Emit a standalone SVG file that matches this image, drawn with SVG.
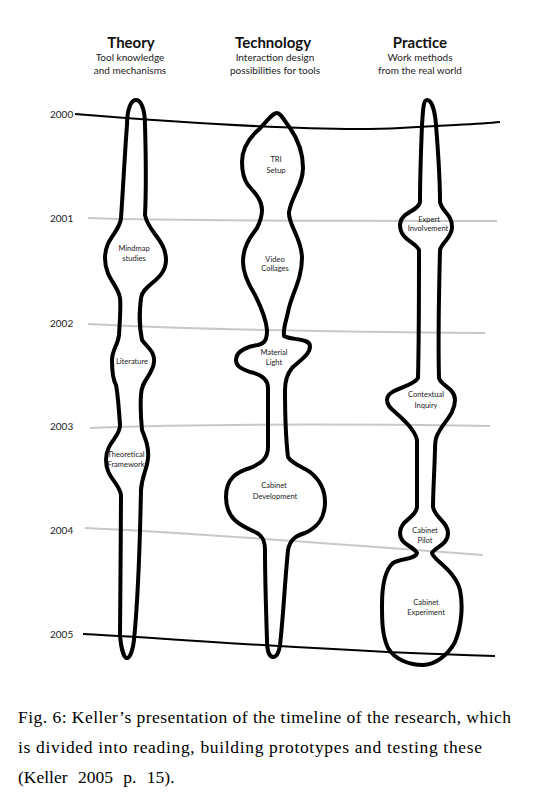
<svg xmlns="http://www.w3.org/2000/svg" width="552" height="798" viewBox="0 0 552 798">
<style>
.h{font-family:Lato,"Open Sans","Liberation Sans",sans-serif;font-weight:bold;font-size:15px;fill:#111;text-anchor:middle}
.s{font-family:Lato,"Open Sans","Liberation Sans",sans-serif;font-size:10px;fill:#222;text-anchor:middle}
.y{font-family:Lato,"Open Sans","Liberation Sans",sans-serif;font-size:10px;fill:#222}
.l{font-family:Lato,"Open Sans","Liberation Sans",sans-serif;font-size:7.5px;fill:#222;text-anchor:middle}
.blob{fill:none;stroke:#000;stroke-width:4;stroke-linejoin:round}
.gl{fill:none;stroke:#c8c8c8;stroke-width:2}
.bl{fill:none;stroke:#000;stroke-width:2}
.c{font-family:"Liberation Serif","Times New Roman",serif;font-size:17.5px;fill:#000}
</style>
<g id="headers">
<text class="h" x="131" y="48">Theory</text>
<text class="s" x="130" y="61">Tool knowledge</text>
<text class="s" x="130" y="74">and mechanisms</text>
<text class="h" x="273" y="48">Technology</text>
<text class="s" x="275" y="61">Interaction design</text>
<text class="s" x="275" y="74">possibilities for tools</text>
<text class="h" x="420" y="48">Practice</text>
<text class="s" x="420" y="61">Work methods</text>
<text class="s" x="420" y="74">from the real world</text>
</g>
<g id="years">
<text class="y" x="50" y="118">2000</text>
<text class="y" x="50" y="222">2001</text>
<text class="y" x="50" y="327">2002</text>
<text class="y" x="50" y="430">2003</text>
<text class="y" x="50" y="534">2004</text>
<text class="y" x="50" y="638">2005</text>
</g>
<g id="connectors">
<path class="bl" d="M75,114 C200,124 330,132 400,128 S480,124 500,122"/>
<path class="gl" d="M88,218 C200,222 350,220 497,221"/>
<path class="gl" d="M88,324 C200,330 350,332 485,333"/>
<path class="gl" d="M90,428 C200,424 350,424 490,426"/>
<path class="gl" d="M85,528 C180,532 300,541 483,555"/>
<path class="bl" d="M83,634 C200,640 330,652 495,656"/>
</g>
<g id="theory">
<path class="blob" d="M136,100 C142,100 145,112 145,125 C146,160 146,195 145,215 C148,232 166,240 166,260 C166,280 142,285 141,298 C139,315 139,325 142,340 C148,348 155,352 154,362 C153,375 141,380 141,395 C140,410 141,420 142,430 C146,440 149,448 148,458 C147,470 142,475 141,490 C140,540 138,600 134,640 C133,650 130,658 127,658 C124,658 121,648 120,635 C120,600 121,540 121,495 C119,482 106,478 106,460 C106,442 120,438 120,425 C119,410 118,395 116,385 C112,378 112,368 112,360 C112,350 118,345 119,335 C120,320 121,305 120,298 C118,285 105,278 105,258 C105,238 120,232 121,218 C123,190 125,150 127,125 C127,112 130,100 136,100 Z"/>
<text class="l" x="134" y="251">Mindmap</text>
<text class="l" x="134" y="261">studies</text>
<text class="l" x="132" y="364">Literature</text>
<text class="l" x="126" y="457">Theoretical</text>
<text class="l" x="126" y="467">Framework</text>
</g>
<g id="technology">
<path class="blob" d="M277,113 C281,113 285,122 290,128 C297,138 303,150 303,168 C303,185 292,195 289,212 C288,225 302,238 302,258 C302,280 291,295 288,312 C286,322 283,328 284,336 C290,340 310,338 310,346 C310,355 300,360 292,368 C287,374 285,380 285,390 C285,420 286,440 288,457 C292,464 303,467 310,472 C320,480 325,490 325,502 C325,518 318,527 305,533 C295,536 290,540 288,550 C285,580 283,620 280,645 C279,652 277,657 273,657 C269,657 267,650 267,640 C266,610 265,580 265,550 C265,540 262,535 255,532 C242,526 226,520 226,497 C226,478 237,472 250,468 C262,463 268,458 268,447 C268,420 268,400 268,388 C268,378 260,374 250,372 C240,368 236,366 236,360 C236,350 250,346 258,345 C266,343 267,338 267,330 C266,318 260,305 255,295 C247,282 243,272 243,262 C243,245 252,235 257,228 C261,220 262,216 262,210 C262,200 255,193 248,185 C243,178 242,170 242,162 C242,150 248,140 256,132 C265,124 272,113 277,113 Z"/>
<text class="l" x="276" y="162">TRI</text>
<text class="l" x="276" y="173">Setup</text>
<text class="l" x="275" y="262">Video</text>
<text class="l" x="275" y="271">Collages</text>
<text class="l" x="274" y="355">Material</text>
<text class="l" x="274" y="365">Light</text>
<text class="l" x="274" y="488">Cabinet</text>
<text class="l" x="275" y="499">Development</text>
</g>
<g id="practice">
<path class="blob" d="M427,100 C432,100 435,112 436,125 C438,150 440,180 440,202 C442,212 452,214 452,227 C452,238 442,242 440,250 C439,290 438,340 439,378 C441,386 455,388 455,400 C455,412 446,420 440,430 C436,436 435,440 435,450 C434,480 433,495 433,507 C435,518 448,522 448,533 C448,545 435,547 432,553 C433,560 455,570 460,590 C463,605 462,625 455,642 C448,655 435,665 423,665 C410,665 395,660 388,648 C382,635 382,620 382,605 C382,585 385,570 393,563 C400,558 415,560 417,553 C414,546 400,545 400,533 C400,520 416,518 417,507 C417,490 417,460 417,440 C415,430 404,420 395,412 C390,408 387,405 387,400 C387,388 412,388 418,378 C419,340 419,290 419,250 C416,242 400,240 400,225 C400,212 418,212 420,202 C420,180 421,150 422,125 C423,112 423,100 427,100 Z"/>
<text class="l" x="429" y="222">Expert</text>
<text class="l" x="428" y="231">Involvement</text>
<text class="l" x="426" y="397">Contextual</text>
<text class="l" x="426" y="408">Inquiry</text>
<text class="l" x="425" y="533">Cabinet</text>
<text class="l" x="425" y="543">Pilot</text>
<text class="l" x="426" y="605">Cabinet</text>
<text class="l" x="426" y="615">Experiment</text>
</g>
<g id="caption">
<text class="c" x="18" y="723" textLength="493" lengthAdjust="spacing">Fig. 6: Keller’s presentation of the timeline of the research, which</text>
<text class="c" x="18" y="753" textLength="464" lengthAdjust="spacing">is divided into reading, building prototypes and testing these</text>
<text class="c" x="18" y="783" word-spacing="6">(Keller 2005 p. 15).</text>
</g>
</svg>
